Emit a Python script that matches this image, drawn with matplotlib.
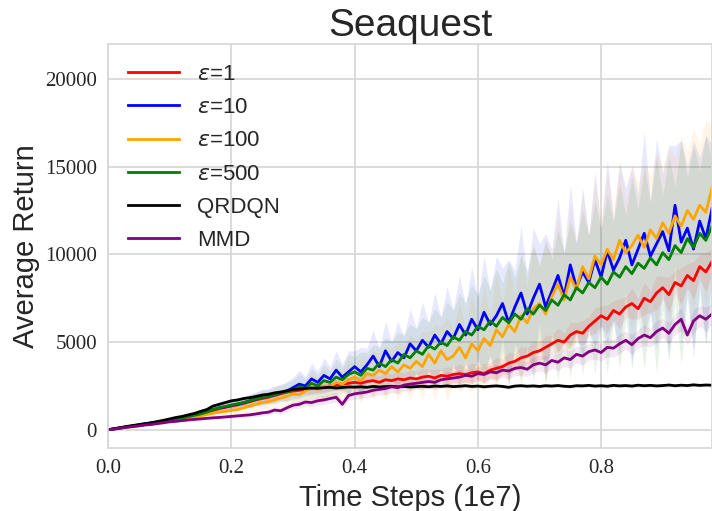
import numpy as np
import matplotlib
matplotlib.use("Agg")
import matplotlib.pyplot as plt

# time axis, 1e7 steps
steps = np.arange(99) / 100.0

qrdqn = [0, 60, 120, 190, 240, 300, 350, 400, 470, 540,
         620, 700, 760, 850, 930, 1050, 1150, 1350, 1450, 1550,
         1650, 1700, 1780, 1830, 1900, 1980, 2020, 2100, 2150, 2220,
         2300, 2320, 2350, 2380, 2360, 2400, 2420, 2380, 2410, 2440,
         2430, 2450, 2420, 2470, 2440, 2460, 2480, 2450, 2470, 2440,
         2460, 2480, 2450, 2490, 2470, 2500, 2460, 2480, 2510, 2470,
         2490, 2450, 2480, 2500, 2470, 2420, 2490, 2510, 2480, 2500,
         2470, 2510, 2490, 2520, 2480, 2460, 2510, 2500, 2530, 2490,
         2510, 2480, 2530, 2500, 2520, 2490, 2540, 2510, 2530, 2500,
         2520, 2550, 2510, 2540, 2520, 2560, 2530, 2550, 2540]

mmd = [0, 40, 90, 140, 180, 220, 270, 300, 350, 400,
       450, 480, 520, 560, 590, 620, 650, 680, 700, 730,
       760, 790, 820, 850, 900, 960, 1000, 1120, 1080, 1250,
       1400, 1450, 1580, 1550, 1650, 1700, 1780, 1850, 1450, 1950,
       2050, 2100, 2150, 2250, 2300, 2350, 2450, 2400, 2550, 2600,
       2650, 2700, 2750, 2700, 2850, 2900, 2950, 3000, 3100, 3050,
       3200, 3150, 3300, 3250, 3400, 3350, 3500, 3550, 3450, 3700,
       3800, 3700, 3950, 3850, 4100, 4000, 4300, 4200, 4450, 4550,
       4400, 4700, 4650, 4900, 5100, 4850, 5200, 5400, 5250, 5600,
       5800, 5500, 6000, 6300, 5400, 6200, 6500, 6300, 6600]

eps1 = [0, 60, 110, 170, 220, 270, 330, 380, 440, 500,
        560, 620, 680, 750, 820, 900, 990, 1100, 1200, 1280,
        1350, 1420, 1500, 1600, 1700, 1780, 1850, 1950, 2050, 2150,
        2200, 2250, 2300, 2350, 2400, 2450, 2500, 2550, 2600, 2650,
        2700, 2650, 2750, 2800, 2700, 2850, 2800, 2900, 2850, 2950,
        2900, 3000, 3050, 2950, 3100, 3050, 3150, 3200, 3150, 3250,
        3300, 3200, 3400, 3500, 3600, 3800, 3900, 4100, 4200, 4400,
        4500, 4700, 4900, 5100, 5000, 5400, 5600, 5500, 5900, 6200,
        6500, 6300, 6800, 6600, 7000, 7200, 6900, 7500, 7300, 7800,
        8100, 7700, 8400, 8200, 8800, 8500, 9300, 9000, 9600]

eps10 = [0, 50, 110, 160, 220, 260, 330, 390, 440, 500,
         560, 630, 700, 780, 860, 950, 1050, 1150, 1250, 1300,
         1400, 1450, 1550, 1650, 1750, 1850, 1900, 2000, 2100, 2200,
         2400, 2600, 2500, 2900, 2700, 3100, 2900, 3400, 3000, 3300,
         3600, 3300, 3700, 4200, 3600, 4500, 3900, 4400, 4100, 4900,
         4500, 5100, 4700, 5400, 4900, 5600, 5200, 6000, 5400, 6300,
         5700, 6700, 6000, 6500, 7200, 6100, 7000, 7800, 6600, 7500,
         8300, 7000, 7900, 8800, 7600, 9400, 8100, 9000, 8400, 9700,
         8700, 10200, 9100, 9800, 10800, 9400, 10300, 11200, 9900, 10600,
         11300, 10200, 12800, 10700, 11500, 10300, 11900, 10900, 12600]

eps100 = [0, 40, 90, 140, 180, 230, 280, 330, 380, 440,
          490, 550, 610, 670, 730, 800, 870, 940, 1000, 1050,
          1100, 1150, 1250, 1350, 1450, 1550, 1600, 1700, 1800, 1900,
          2050, 2000, 2200, 2400, 2300, 2500, 2450, 2700, 2600, 2850,
          3000, 2800, 3200, 3100, 3400, 3200, 3600, 3300, 3700, 3500,
          3900, 3600, 4300, 3800, 4500, 4000, 4200, 4700, 4100, 4900,
          4500, 5200, 4800, 5700, 5300, 6000, 5600, 6500, 6100, 6900,
          7200, 6600, 7600, 8300, 7400, 8700, 8000, 9300, 8600, 9900,
          9400, 10300, 9700, 10800, 10100, 10500, 11100, 10400, 11400, 10900,
          11800, 11200, 12200, 11600, 12500, 12000, 12800, 12400, 13800]

eps500 = [0, 50, 100, 150, 200, 250, 300, 360, 420, 480,
          540, 600, 670, 740, 820, 900, 1000, 1150, 1250, 1330,
          1400, 1480, 1550, 1650, 1750, 1850, 1900, 2000, 2100, 2150,
          2250, 2450, 2350, 2650, 2500, 2800, 2700, 3000, 2850, 3150,
          3300, 3100, 3500, 3400, 3800, 3600, 4000, 3800, 4300, 4100,
          4500, 4300, 4800, 4600, 5000, 4800, 5300, 5100, 5600, 5400,
          5900, 5700, 6200, 5900, 6400, 6100, 6600, 6300, 6900, 6600,
          7100, 6800, 7400, 7100, 7700, 7400, 8100, 7800, 8400, 8100,
          8700, 8300, 9000, 8700, 9300, 8900, 9500, 9200, 9800, 9400,
          10100, 9700, 10500, 10100, 10900, 10400, 11200, 10800, 11600]

# spread of the seeds (half width of shaded band)
sd_qrdqn = [0, 10, 15, 20, 25, 30, 30, 35, 40, 40,
            45, 50, 55, 60, 70, 80, 90, 100, 100, 110,
            110, 120, 110, 120, 130, 120, 130, 120, 130, 120,
            110, 120, 110, 100, 110, 100, 110, 100, 90, 100,
            90, 100, 90, 100, 90, 100, 90, 100, 90, 100,
            90, 100, 90, 100, 90, 100, 90, 100, 90, 100,
            90, 100, 90, 100, 90, 100, 90, 100, 90, 100,
            90, 100, 90, 100, 90, 100, 90, 100, 90, 100,
            90, 100, 90, 100, 90, 100, 90, 100, 90, 100,
            90, 100, 90, 100, 90, 100, 90, 100, 90]

sd_mmd = [0, 10, 15, 20, 25, 30, 35, 40, 45, 50,
          55, 60, 65, 70, 75, 80, 85, 90, 95, 100,
          110, 120, 130, 140, 150, 160, 170, 180, 190, 200,
          210, 220, 230, 240, 250, 260, 270, 280, 290, 300,
          300, 320, 300, 340, 310, 350, 320, 360, 330, 370,
          340, 380, 350, 390, 360, 400, 370, 410, 380, 420,
          390, 430, 400, 440, 410, 450, 420, 460, 430, 470,
          440, 480, 450, 490, 460, 500, 470, 510, 480, 520,
          490, 540, 500, 560, 510, 580, 520, 600, 530, 620,
          540, 640, 550, 660, 560, 680, 570, 700, 580]

sd_eps1 = [0, 15, 20, 25, 30, 35, 40, 45, 50, 55,
           60, 65, 70, 80, 90, 100, 110, 120, 130, 140,
           150, 160, 170, 180, 190, 200, 210, 220, 230, 240,
           250, 260, 270, 280, 290, 300, 310, 320, 330, 340,
           350, 380, 350, 400, 360, 420, 370, 440, 380, 460,
           390, 480, 400, 500, 410, 520, 420, 540, 430, 560,
           440, 580, 450, 600, 460, 620, 470, 640, 480, 660,
           490, 680, 500, 700, 510, 720, 520, 740, 530, 760,
           540, 800, 560, 840, 580, 880, 600, 920, 620, 960,
           640, 1000, 660, 1040, 680, 1080, 700, 1120, 720]

sd_eps10 = [0, 20, 30, 40, 50, 60, 70, 80, 90, 100,
            110, 130, 150, 170, 190, 210, 230, 250, 270, 290,
            300, 320, 350, 380, 400, 450, 420, 500, 480, 550,
            600, 800, 550, 900, 650, 1000, 700, 1100, 750, 1200,
            900, 1400, 950, 1500, 1000, 1700, 1100, 1800, 1200, 2000,
            1300, 2200, 1400, 2400, 1500, 2600, 1600, 2800, 1700, 3000,
            1800, 3200, 1900, 3400, 2000, 3600, 2100, 3800, 2200, 4000,
            2300, 4200, 2400, 4400, 2500, 4600, 2600, 4800, 2700, 5000,
            2800, 5200, 2900, 5400, 3000, 5600, 3100, 5800, 3200, 6000,
            3300, 6000, 3400, 5800, 3500, 6200, 3600, 5900, 3700]

sd_eps100 = [0, 20, 25, 30, 40, 50, 60, 70, 80, 90,
             100, 110, 120, 140, 160, 180, 200, 220, 240, 260,
             280, 300, 320, 350, 380, 400, 380, 450, 420, 500,
             550, 700, 500, 800, 600, 900, 650, 1000, 700, 1100,
             800, 1300, 850, 1400, 900, 1600, 1000, 1700, 1100, 1900,
             1200, 2000, 1300, 2200, 1400, 2400, 1500, 2600, 1600, 2800,
             1700, 3000, 1800, 3200, 1900, 3400, 2000, 3600, 2100, 3800,
             2200, 4000, 2300, 4100, 2400, 4200, 2500, 4300, 2600, 4400,
             2700, 4500, 2800, 4600, 2900, 4700, 3000, 4800, 3100, 4900,
             3200, 5000, 3300, 5100, 3400, 5200, 3500, 5300, 3600]

sd_eps500 = [0, 20, 25, 30, 40, 50, 60, 70, 80, 90,
             100, 120, 140, 160, 180, 200, 220, 240, 260, 280,
             300, 320, 340, 360, 390, 420, 400, 470, 450, 520,
             580, 750, 520, 850, 620, 950, 680, 1050, 720, 1150,
             850, 1350, 900, 1450, 950, 1650, 1050, 1750, 1150, 1950,
             1250, 2100, 1350, 2300, 1450, 2500, 1550, 2700, 1650, 2900,
             1750, 3100, 1850, 3300, 1950, 3500, 2050, 3700, 2150, 3900,
             2250, 4100, 2350, 4300, 2450, 4500, 2550, 4700, 2650, 4900,
             2750, 5100, 2850, 5300, 2950, 5500, 3050, 5800, 3150, 6200,
             3250, 5900, 3350, 6400, 3450, 5800, 3550, 6000, 3650]

runs = [
    (r"$\epsilon$=1", eps1, sd_eps1, "red"),
    (r"$\epsilon$=10", eps10, sd_eps10, "blue"),
    (r"$\epsilon$=100", eps100, sd_eps100, "orange"),
    (r"$\epsilon$=500", eps500, sd_eps500, "green"),
    ("QRDQN", qrdqn, sd_qrdqn, "black"),
    ("MMD", mmd, sd_mmd, "purple"),
]

plt.rcParams["font.family"] = ["Liberation Sans", "DejaVu Sans"]

fig = plt.figure(figsize=(7.12, 5.11), dpi=100)
ax = fig.add_axes([0.152, 0.123, 0.848, 0.791])

for label, mean, sd, color in runs:
    mean = np.array(mean, dtype=float)
    sd = np.array(sd, dtype=float)
    ax.fill_between(steps, mean - sd, mean + sd, color=color, alpha=0.09, lw=0)
for label, mean, sd, color in runs:
    ax.plot(steps, mean, color=color, lw=2, label=label)

ax.set_xlim(0, 0.98)
ax.set_ylim(-1050, 22000)
ax.set_xticks([0.0, 0.2, 0.4, 0.6, 0.8])
ax.set_yticks([0, 5000, 10000, 15000, 20000])
for t in ax.get_xticklabels() + ax.get_yticklabels():
    t.set_fontfamily("Liberation Serif")
    t.set_fontsize(15)
    t.set_color("#262626")
ax.tick_params(length=0, pad=8)

ax.grid(True, color="#d5d5d5", lw=1.2)
ax.set_axisbelow(True)
for s in ax.spines.values():
    s.set_color("#d5d5d5")
    s.set_linewidth(1.2)

ax.set_title("Seaquest", fontsize=28, color="#262626")
ax.set_xlabel("Time Steps (1e7)", fontsize=21, color="#262626")
ax.set_ylabel("Average Return", fontsize=21, color="#262626")

ax.legend(loc="upper left", frameon=False, fontsize=16, labelspacing=0.55,
          handlelength=2.3, labelcolor="#262626")

fig.savefig("out.png", dpi=100)
